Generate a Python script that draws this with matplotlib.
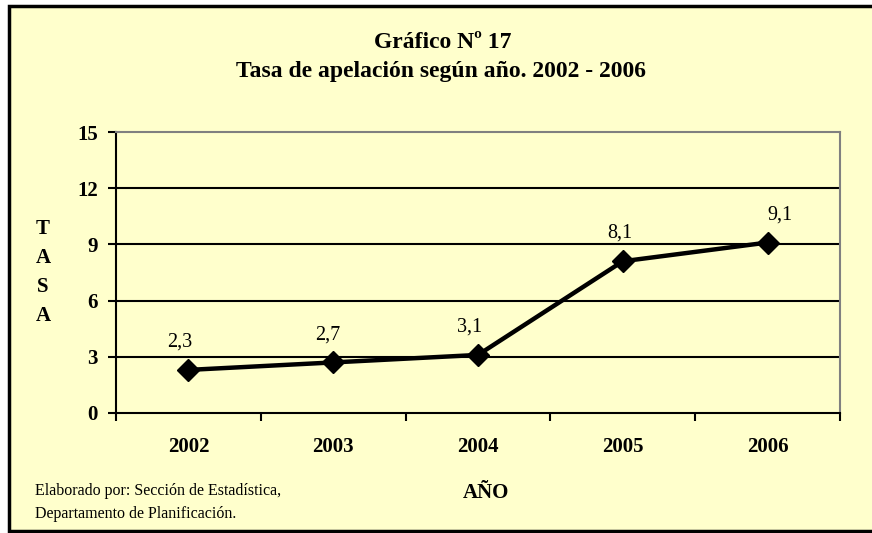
import matplotlib.pyplot as plt
from matplotlib.patches import Rectangle

years = ["2002", "2003", "2004", "2005", "2006"]
tasa = [2.3, 2.7, 3.1, 8.1, 9.1]
labels = ["2,3", "2,7", "3,1", "8,1", "9,1"]
label_dx = [-6, -4, -6, -2, 9]   # points, where Excel put each label
y_ticks = [0, 3, 6, 9, 12, 15]

plt.rcParams["font.family"] = ["Liberation Serif", "DejaVu Serif"]
bg = "#FFFFCC"

W, H = 872, 533
fig = plt.figure(figsize=(W / 100, H / 100), dpi=100)
fig.patch.set_facecolor("white")

# yellow panel with black frame (right edge runs off the picture)
fig.patches.append(Rectangle((9 / W, 2 / H), 1.0, (527 - 2) / H, transform=fig.transFigure,
                             facecolor=bg, edgecolor="black", linewidth=2.5, zorder=-1))

ax = fig.add_axes([116 / W, (H - 413) / H, 724 / W, 281 / H])
ax.set_facecolor(bg)

x = list(range(len(years)))
ax.plot(x, tasa, color="black", linewidth=3.2, marker="D", markersize=11, zorder=3)
for xi, yi, lab, dx in zip(x, tasa, labels, label_dx):
    ax.annotate(lab, (xi, yi), xytext=(dx, 20), textcoords="offset points",
                ha="center", va="center", fontsize=14.5)

ax.set_xlim(-0.5, len(years) - 0.5)
ax.set_ylim(0, 15)
ax.set_yticks(y_ticks)
ax.set_yticklabels([str(v) for v in y_ticks], fontsize=15, fontweight="bold")
ax.set_xticks([i - 0.5 for i in range(len(years) + 1)])
ax.set_xticklabels([])
ax.set_xticks(x, minor=True)
ax.set_xticklabels(years, minor=True, fontsize=15, fontweight="bold")
ax.tick_params(axis="x", which="minor", length=0, pad=17)
ax.tick_params(axis="x", which="major", length=6, width=1.5, direction="out")
ax.tick_params(axis="y", length=6, width=1.5, direction="out", pad=7)

for v in y_ticks[1:-1]:
    ax.axhline(v, color="black", linewidth=1.5, zorder=1)

for side in ("top", "right"):
    ax.spines[side].set_color("#808080")
    ax.spines[side].set_linewidth(1.5)
for side in ("left", "bottom"):
    ax.spines[side].set_color("black")
    ax.spines[side].set_linewidth(1.5)

fig.text(443 / W, 1 - 42 / H, "Gráfico Nº 17", ha="center", va="center",
         fontsize=17, fontweight="bold")
fig.text(441 / W, 1 - 72 / H, "Tasa de apelación según año. 2002 - 2006", ha="center",
         va="center", fontsize=17, fontweight="bold")

for i, ch in enumerate("TASA"):
    fig.text(43 / W, 1 - (229 + 29 * i) / H, ch, ha="center", va="center",
             fontsize=15, fontweight="bold")

fig.text(486 / W, 1 - 493 / H, "AÑO", ha="center", va="center", fontsize=15,
         fontweight="bold")
fig.text(35 / W, 1 - 491 / H, "Elaborado por: Sección de Estadística,", ha="left",
         va="center", fontsize=11.5)
fig.text(35 / W, 1 - 514 / H, "Departamento de Planificación.", ha="left",
         va="center", fontsize=11.5)

fig.savefig("out.png", dpi=100, facecolor=fig.get_facecolor())
